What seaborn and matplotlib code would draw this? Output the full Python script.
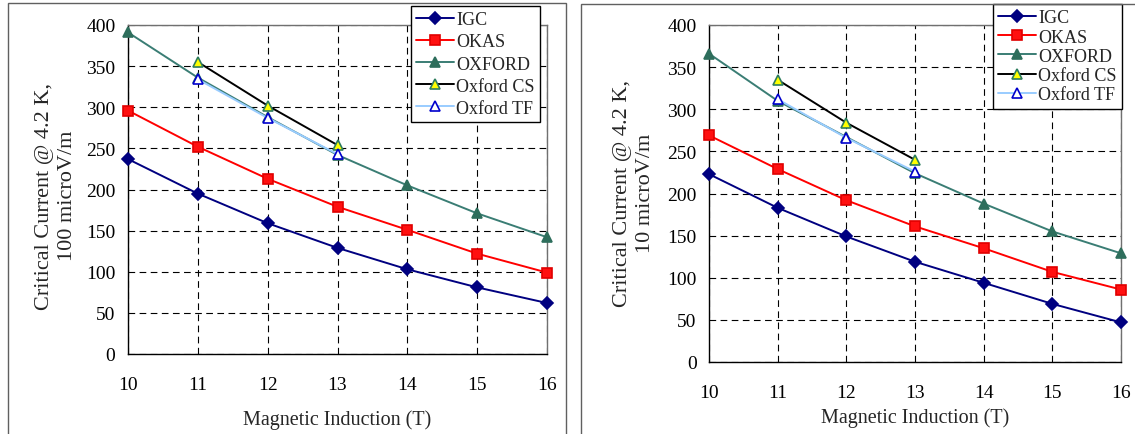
import matplotlib
matplotlib.use("Agg")
import matplotlib.pyplot as plt
import seaborn as sns
from matplotlib.patches import Rectangle

# Magnetic induction (T)
field = [10, 11, 12, 13, 14, 15, 16]
field_short = [11, 12, 13]

# Critical current @ 4.2 K, 100 microV/m criterion
igc_100 = [237, 195, 159, 129, 103, 81, 62]
okas_100 = [296, 252, 213, 179, 151, 122, 99]
oxford_100 = [391, 336, 288, 242, 205, 171, 142]
oxford_cs_100 = [355, 302, 254]
oxford_tf_100 = [334, 287, 243]

# Critical current @ 4.2 K, 10 microV/m criterion
igc_10 = [223, 183, 149, 119, 94, 69, 47]
okas_10 = [269, 229, 192, 161, 135, 107, 86]
oxford_10 = [366, 310, 267, 224, 188, 155, 129]
oxford_cs_10 = [335, 284, 240]
oxford_tf_10 = [312, 266, 226]

series_names = ["IGC", "OKAS", "OXFORD", "Oxford CS", "Oxford TF"]
y_ticks = list(range(0, 401, 50))

styles = {
    "IGC": dict(color="#000080", marker="D", markersize=6,
                markerfacecolor="#000080", markeredgecolor="#000080"),
    "OKAS": dict(color="#FF0000", marker="s", markersize=6.5,
                 markerfacecolor="#FF1010", markeredgecolor="#E00000"),
    "OXFORD": dict(color="#3A7D74", marker="^", markersize=7.5,
                   markerfacecolor="#2E6E5C", markeredgecolor="#2E6E5C"),
    "Oxford CS": dict(color="#000000", marker="^", markersize=7.5,
                      markerfacecolor="#FFFF00", markeredgecolor="#2E7D5E"),
    "Oxford TF": dict(color="#99CCFF", marker="^", markersize=7.5,
                      markerfacecolor="#FFFFFF", markeredgecolor="#0000CC"),
}

sns.set_style("white")
plt.rcParams["font.family"] = ["Liberation Serif", "DejaVu Serif"]

W, H = 1135, 435
fig = plt.figure(figsize=(W / 100, H / 100), dpi=100)


def px_axes(x0, x1, ytop, ybot):
    return fig.add_axes([x0 / W, 1 - ybot / H, (x1 - x0) / W, (ybot - ytop) / H])


panels = [
    dict(ax=px_axes(128, 547, 26, 355),
         data=[(field, igc_100), (field, okas_100), (field, oxford_100),
               (field_short, oxford_cs_100), (field_short, oxford_tf_100)],
         ylabel="Critical Current @ 4.2 K,\n100 microV/m",
         ylab_xy=(-0.172, 0.483), xlab_y=-0.198,
         legend_anchor=(540, 7), labelspacing=0.28),
    dict(ax=px_axes(709, 1121, 26, 363),
         data=[(field, igc_10), (field, okas_10), (field, oxford_10),
               (field_short, oxford_cs_10), (field_short, oxford_tf_10)],
         ylabel="Critical Current @ 4.2 K,\n10 microV/m",
         ylab_xy=(-0.183, 0.503), xlab_y=-0.163,
         legend_anchor=(1122, 5), labelspacing=0.12),
]

for p in panels:
    ax = p["ax"]
    for name, (xs, ys) in zip(series_names, p["data"]):
        sns.lineplot(x=xs, y=ys, ax=ax, label=name, linewidth=1.4,
                     markeredgewidth=1.2, clip_on=False, zorder=3,
                     **styles[name])

    ax.set_xlim(10, 16)
    ax.set_ylim(0, 400)
    ax.set_xticks(field)
    ax.set_yticks(y_ticks)
    ax.grid(True, color="black", linestyle=(0, (6, 4)), linewidth=0.8)
    ax.set_axisbelow(True)
    ax.tick_params(axis="both", direction="out", length=4, width=1,
                   color="black", labelsize=14, labelcolor="black")
    ax.tick_params(axis="x", pad=12)
    ax.tick_params(axis="y", pad=5)
    for side in ("left", "bottom"):
        ax.spines[side].set_color("black")
        ax.spines[side].set_linewidth(1)
    for side in ("top", "right"):
        ax.spines[side].set_color("#707070")
        ax.spines[side].set_linewidth(1)

    ax.set_xlabel("Magnetic Induction (T)", fontsize=14.5, va="center")
    ax.xaxis.set_label_coords(0.5, p["xlab_y"])
    ax.set_ylabel(p["ylabel"], fontsize=16, va="center", ha="center",
                  multialignment="center", linespacing=1.3)
    ax.yaxis.set_label_coords(*p["ylab_xy"])

    lx, ly = p["legend_anchor"]
    leg = ax.legend(loc="upper right", bbox_to_anchor=(lx / W, 1 - ly / H),
                    bbox_transform=fig.transFigure, fontsize=13,
                    frameon=True, fancybox=False, framealpha=1,
                    edgecolor="black", borderpad=0.3,
                    labelspacing=p["labelspacing"], handlelength=2.1,
                    handletextpad=0.12, borderaxespad=0)
    leg.get_frame().set_linewidth(1)
    leg.set_zorder(10)

# Chart-area borders around each panel
fig.add_artist(Rectangle((8 / W, -0.02), (566 - 8) / W, 1.02 - 4 / H,
                         transform=fig.transFigure, fill=False,
                         edgecolor="#606060", linewidth=1))
fig.add_artist(Rectangle((581 / W, -0.02), 0.6, 1.02 - 5 / H,
                         transform=fig.transFigure, fill=False,
                         edgecolor="#606060", linewidth=1))

fig.savefig("out.png", dpi=100)
